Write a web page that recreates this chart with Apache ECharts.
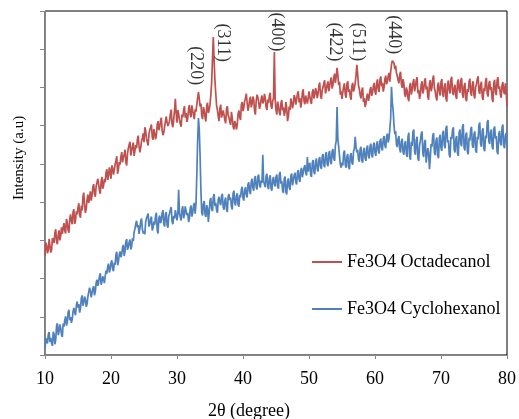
<!DOCTYPE html>
<html>
<head>
<meta charset="utf-8">
<script src="https://cdn.jsdelivr.net/npm/echarts@6/dist/echarts.min.js"></script>
<style>
html,body{margin:0;padding:0;background:#fff;}
#chart{width:519px;height:419px;}
</style>
</head>
<body>
<div id="chart"></div>
<script>
// sampling grid of the diffraction scans (2θ, degrees)
const twoThetaStart = 10;
const twoThetaStep = 0.25;

const seriesNames = ['Fe3O4 Octadecanol', 'Fe3O4 Cyclohexanol'];

// Intensity (a.u.) at 10°, 10.25°, ... 80°
const octadecanol = [
260,287,275,299,275,300,320,297,314,300,334,332,325,356,327,356,350,374,343,376,
385,366,390,414,390,383,420,412,404,439,421,441,461,431,453,435,461,477,458,491,
461,489,484,509,474,505,519,504,526,504,527,550,522,547,521,549,564,547,542,568,
557,587,557,577,595,570,591,564,602,588,612,587,582,612,608,594,631,604,616,670,
608,630,605,629,640,621,610,643,630,653,628,643,655,688,650,626,649,622,652,633,
655,712,832,718,652,624,646,621,640,615,644,627,610,636,598,612,590,630,622,655,
638,665,684,639,667,648,676,638,665,674,644,670,658,683,649,668,678,651,665,793,
641,663,635,659,640,626,662,612,650,671,645,680,655,683,661,647,688,664,679,658,
690,664,688,671,698,672,705,679,692,711,684,707,690,718,697,725,712,751,706,681,
670,702,681,709,688,676,704,689,712,759,705,680,692,662,649,676,665,694,678,703,
688,712,695,720,703,689,722,708,730,715,760,775,748,738,719,733,708,722,682,700,
672,703,681,712,690,719,685,670,708,684,716,695,676,711,690,723,698,674,705,688,
714,683,702,672,709,692,720,687,699,677,713,693,718,681,704,671,696,715,686,708,
679,701,722,690,707,675,698,717,684,709,693,670,712,688,719,696,681,706,690,711,
650];
// Intensity (a.u.) at the in-between samples 10.125°, 10.375°, ... 79.875°
const octadecanolMid = [
294,266,304,268,306,293,329,290,326,311,317,345,318,347,320,368,342,381,352,368,
397,359,378,425,372,407,398,428,417,447,414,436,447,422,466,443,452,486,469,479,
496,472,499,520,486,498,531,516,537,496,541,558,534,556,535,541,574,530,559,580,
596,566,548,589,603,563,580,575,612,597,621,575,598,624,599,612,642,596,640,632,
641,616,597,622,651,633,619,654,622,640,617,637,672,671,658,617,640,611,660,641,
680,775,770,684,641,612,655,630,628,606,651,621,602,620,590,605,601,640,615,662,
647,672,660,650,676,657,669,629,681,662,653,679,664,672,641,659,686,644,672,668,
629,651,627,667,648,636,645,624,641,662,657,673,669,690,672,660,695,656,684,671,
676,657,695,682,689,684,713,670,701,719,695,716,702,726,707,736,728,733,715,690,
688,711,673,716,695,668,712,698,731,735,696,671,700,672,658,684,674,701,686,712,
681,721,688,729,712,700,731,716,738,741,770,764,757,730,711,741,699,710,675,692,
664,712,693,722,701,727,694,681,716,693,724,703,668,719,699,731,690,666,713,679,
722,675,711,663,718,684,728,680,707,670,721,686,725,673,712,664,688,723,678,716,
671,709,729,683,715,667,690,725,676,717,701,662,720,680,727,703,673,714,682,690];

const cyclohexanol = [
16,39,54,34,31,61,28,76,52,80,53,82,92,77,112,91,84,114,111,130,
124,111,148,129,153,126,153,176,151,174,156,189,181,206,184,206,188,221,232,216,
241,225,242,263,235,263,256,281,259,297,275,295,276,305,321,343,334,317,350,330,
324,348,362,336,356,326,349,364,327,357,345,371,343,368,340,363,380,349,364,379,
352,432,360,381,358,389,366,348,384,362,391,370,470,620,520,372,396,368,392,348,
404,382,413,390,379,407,399,416,386,405,381,414,405,387,423,397,416,394,419,433,
410,432,419,446,428,454,437,461,439,466,444,457,524,446,468,440,463,436,459,447,
466,441,472,448,430,461,427,455,438,468,444,470,452,477,459,483,465,490,476,518,
496,472,503,479,507,486,511,493,519,497,524,500,527,505,532,514,548,649,545,498,
503,528,497,519,492,521,504,533,571,530,512,538,509,535,514,541,520,546,523,549,
528,552,534,559,541,566,548,572,556,592,702,640,578,551,566,538,559,531,552,526,
571,520,558,584,532,563,515,549,578,527,556,503,541,486,552,574,530,561,522,568,
541,580,548,593,556,524,571,589,537,566,528,583,553,597,542,575,531,568,590,549,
578,536,571,601,552,586,540,574,608,559,583,545,591,566,532,579,555,596,548,574,
541];
const cyclohexanolMid = [
44,30,60,45,24,55,40,83,61,71,47,74,101,85,118,99,94,123,104,140,
133,122,156,137,147,134,149,168,162,180,166,197,190,214,191,200,207,213,239,224,
248,219,236,270,244,271,263,288,272,303,283,302,284,298,330,351,340,330,357,318,
316,357,370,342,362,333,341,372,318,365,352,379,336,374,333,371,387,342,357,368,
368,371,352,389,366,394,372,356,391,371,398,395,560,590,430,365,403,361,384,372,
411,376,421,398,372,414,392,422,380,412,374,421,412,381,430,391,423,388,412,440,
404,439,412,452,421,461,430,468,433,472,438,450,455,439,474,434,470,430,466,441,
472,435,479,455,424,467,420,462,432,475,439,477,446,484,453,490,460,497,470,480,
503,466,510,473,514,480,518,487,526,491,531,494,534,499,539,508,560,565,521,490,
496,535,490,526,486,528,498,540,545,537,506,545,503,542,508,548,514,553,517,556,
521,559,527,566,535,573,541,579,567,620,660,602,585,544,573,530,566,524,560,518,
582,511,547,590,524,571,508,560,585,518,563,498,530,515,545,581,523,569,515,576,
534,587,541,600,562,517,565,596,530,573,521,590,546,604,535,582,525,561,597,542,
585,529,564,608,545,593,533,567,615,552,590,538,598,573,525,586,548,603,541,581];

// reflection labels (hkl) and where they sit in data coordinates
const peakLabels = ['(220)', '(311)', '(400)', '(422)', '(511)', '(440)'];
const peakLabelX = [32.85, 36.95, 45.1, 53.9, 57.35, 62.8];
const peakLabelY = [757, 817, 845, 819, 819, 838];

const xTicks = [10, 20, 30, 40, 50, 60, 70, 80];
const xTitle = '2θ (degree)';
const yTitle = 'Intensity (a.u)';

function toPairs(main, mid) {
  const out = [];
  for (let i = 0; i < main.length; i++) {
    const x = twoThetaStart + i * twoThetaStep;
    out.push([x, main[i]]);
    if (i < mid.length) out.push([x + twoThetaStep / 2, mid[i]]);
  }
  return out;
}
const labelPoints = peakLabels.map((t, i) => ({ value: [peakLabelX[i], peakLabelY[i]], name: t }));

const serif = '"Liberation Serif", "DejaVu Serif", serif';
const chart = echarts.init(document.getElementById('chart'), null, { renderer: 'canvas' });
chart.setOption({
  animation: false,
  backgroundColor: '#ffffff',
  grid: { left: 45, right: 8, top: 11, bottom: 64, show: true, borderColor: '#000000', borderWidth: 1, backgroundColor: 'transparent' },
  legend: {
    data: seriesNames,
    orient: 'vertical',
    left: 307,
    top: 247,
    icon: 'rect',
    itemWidth: 30,
    itemHeight: 2,
    itemGap: 27,
    textStyle: { fontFamily: serif, fontSize: 18, color: '#000', lineHeight: 20 }
  },
  xAxis: {
    type: 'value',
    min: 10, max: 80, interval: 10,
    axisLine: { show: true, lineStyle: { color: '#868686', width: 1 } },
    axisTick: { show: true, inside: false, length: 4, lineStyle: { color: '#868686' } },
    axisLabel: { fontFamily: serif, fontSize: 18, color: '#000', margin: 15,
      formatter: v => (xTicks.indexOf(v) >= 0 ? String(v) : '') },
    splitLine: { show: false }
  },
  yAxis: {
    type: 'value',
    min: 0, max: 900, interval: 100,
    axisLine: { show: true, lineStyle: { color: '#868686', width: 1 } },
    axisTick: { show: true, inside: false, length: 5, lineStyle: { color: '#868686' } },
    axisLabel: { show: false },
    splitLine: { show: false }
  },
  graphic: [
    { type: 'text', left: 208, top: 402, style: { text: xTitle, font: '18px ' + serif, fill: '#000' } },
    { type: 'text', x: 12, y: 200, rotation: Math.PI / 2, style: { text: yTitle, font: '15px ' + serif, fill: '#000' } }
  ],
  series: [
    { name: seriesNames[0], type: 'line', data: toPairs(octadecanol, octadecanolMid), showSymbol: false, symbol: 'none',
      lineStyle: { color: '#C0504D', width: 1.7 }, itemStyle: { color: '#C0504D' }, z: 2 },
    { name: seriesNames[1], type: 'line', data: toPairs(cyclohexanol, cyclohexanolMid), showSymbol: false, symbol: 'none',
      lineStyle: { color: '#4F81BD', width: 1.7 }, itemStyle: { color: '#4F81BD' }, z: 3 },
    { name: 'labels', type: 'scatter', data: labelPoints, symbolSize: 1, z: 5,
      itemStyle: { color: 'transparent' },
      label: { show: true, position: 'inside', rotate: -90, formatter: p => p.name,
        fontFamily: serif, fontSize: 18, color: '#000' } }
  ]
});
</script>
</body>
</html>
